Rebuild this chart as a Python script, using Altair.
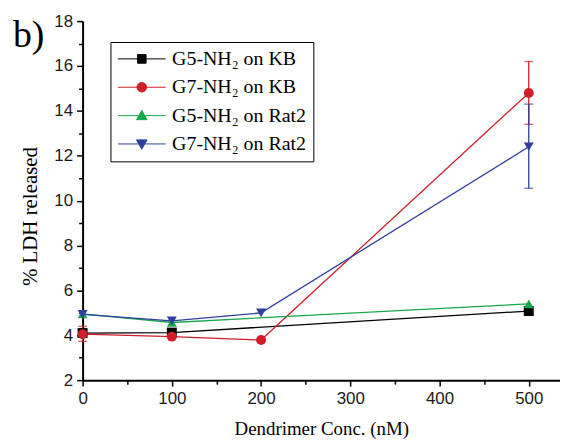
import altair as alt
import pandas as pd

conc = [0, 100, 200, 500]
series = ["G5-NH₂ on KB", "G7-NH₂ on KB", "G5-NH₂ on Rat2", "G7-NH₂ on Rat2"]
g5_kb = [4.1, 4.12, None, 5.08]
g7_kb = [4.05, 3.94, 3.79, 14.8]
g5_rat2 = [4.95, 4.57, None, 5.4]
g7_rat2 = [4.93, 4.64, 5.0, 12.4]

err_series = ["G7-NH₂ on KB", "G7-NH₂ on KB", "G7-NH₂ on Rat2"]
err_conc = [0, 500, 500]
err_low = [3.73, 13.4, 10.55]
err_high = [4.4, 16.2, 14.3]

panel_label = ["b)"]

colors = ["#000000", "#d01f2b", "#17a84b", "#2f3f9f"]
shapes = ["square", "circle", "triangle-up", "triangle-down"]
legend_paths = [
    "M-1,0H1M-0.18,-0.18H0.18V0.18H-0.18Z",
    "M-1,0H1M0.2,0A0.2,0.2,0,1,1,-0.2,0A0.2,0.2,0,1,1,0.2,0Z",
    "M-1,0H1M0,-0.22L0.22,0.17H-0.22Z",
    "M-1,0H1M0,0.22L0.22,-0.17H-0.22Z",
]

SERIF = "Liberation Serif, Times New Roman, DejaVu Serif, serif"

rows = []
for name, vals in zip(series, [g5_kb, g7_kb, g5_rat2, g7_rat2]):
    for c, v in zip(conc, vals):
        if v is not None:
            rows.append({"series": name, "conc": c, "value": v})
df = pd.DataFrame(rows)
err_df = pd.DataFrame({"series": err_series, "conc": err_conc, "value": err_low, "high": err_high})

x_axis = alt.Axis(
    values=list(range(0, 551, 50)),
    labelExpr="datum.value % 100 == 0 ? datum.label : ''",
    tickSize={"condition": {"test": "datum.value % 100 == 0", "value": 6}, "value": 4},
    title="Dendrimer Conc. (nM)",
    titleFontSize=19, titlePadding=14,
)
y_axis = alt.Axis(
    values=list(range(2, 19)),
    labelExpr="datum.value % 2 == 0 ? datum.label : ''",
    tickSize={"condition": {"test": "datum.value % 2 == 0", "value": 6}, "value": 4},
    title="% LDH released",
    titleFontSize=21, titlePadding=13, titleY=196,
)

x_enc = alt.X("conc:Q", scale=alt.Scale(domain=[0, 535], nice=False, zero=False), axis=x_axis)
y_enc = alt.Y("value:Q", scale=alt.Scale(domain=[2, 18], nice=False, zero=False), axis=y_axis)
color_scale = alt.Scale(domain=series, range=colors)

lines = alt.Chart(df).mark_line(strokeWidth=1.3).encode(
    x=x_enc, y=y_enc,
    color=alt.Color("series:N", scale=color_scale, legend=None),
    order=alt.Order("conc:Q"),
)

errs = alt.Chart(err_df).mark_errorbar(ticks={"size": 9}, thickness=1.3).encode(
    x=x_enc, y=y_enc,
    y2=alt.Y2("high:Q"),
    color=alt.Color("series:N", scale=color_scale, legend=None),
)

points = alt.Chart(df).mark_point(filled=True, opacity=1, size=100).encode(
    x=x_enc, y=y_enc,
    color=alt.Color("series:N", scale=color_scale, legend=None),
    shape=alt.Shape("series:N", scale=alt.Scale(domain=series, range=shapes), legend=None),
)

legend_layer = alt.Chart(df).transform_filter("false").mark_point(
    filled=True, opacity=1, strokeWidth=1
).encode(
    x=x_enc, y=y_enc,
    color=alt.Color("series:N", scale=color_scale, legend=alt.Legend(
        title=None, orient="none", legendX=28, legendY=21,
        symbolSize=2304, symbolStrokeWidth=1, symbolOpacity=1,
        labelFont=SERIF, labelFontSize=20, labelColor="black",
        labelOffset=6, rowPadding=8.5, padding=7, clipHeight=20,
        strokeColor="black", fillColor="white",
    )),
    stroke=alt.Stroke("series:N", scale=color_scale),
    shape=alt.Shape("series:N", scale=alt.Scale(domain=series, range=legend_paths)),
)

label_layer = alt.Chart(pd.DataFrame({"t": panel_label})).mark_text(
    font=SERIF, fontSize=38, align="left", baseline="alphabetic", color="black"
).encode(text="t:N", x=alt.value(-70), y=alt.value(26))

chart = alt.layer(lines, errs, points, legend_layer, label_layer).resolve_scale(
    color="independent", shape="independent", stroke="independent"
).properties(
    width=480, height=361,
    autosize=alt.AutoSizeParams(type="none"),
    padding={"left": 75, "top": 12, "right": 0, "bottom": 62},
).configure_view(stroke=None).configure_axis(
    titleFont=SERIF, titleFontWeight="normal", titleColor="black",
    labelFont="Liberation Sans", labelFontSize=17, labelColor="#1a1a1a",
    labelPadding=4,
    domainColor="black", domainWidth=2, tickColor="black", tickWidth=1.5,
    grid=False, labelFlush=False, labelOverlap=False,
)

chart.save("out.html", embed_options={"renderer": "svg", "actions": False})
